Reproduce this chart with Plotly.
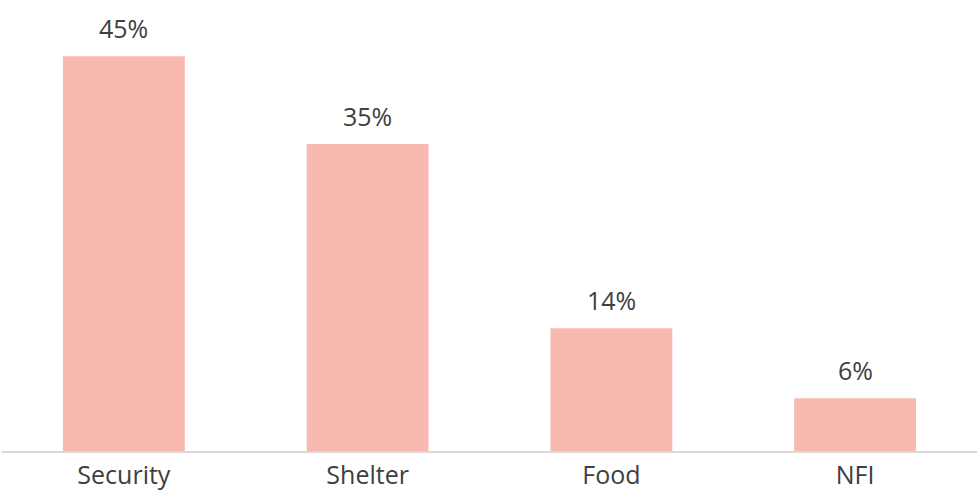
import plotly.graph_objects as go

categories = ["Security", "Shelter", "Food", "NFI"]
values = [45, 35, 14, 6]
labels = ["45%", "35%", "14%", "6%"]

FONT = "Open Sans"
fig = go.Figure(go.Bar(
    x=categories, y=values,
    marker=dict(color="#F8BAB0", line=dict(width=0)),
    hoverinfo="skip",
))
for c, v, t in zip(categories, values, labels):
    fig.add_annotation(x=c, y=v, text=t, showarrow=False, yanchor="bottom",
                       yshift=9, font=dict(size=25, color="#404040", family=FONT))
fig.update_layout(
    width=977, height=491,
    margin=dict(l=2, r=0, t=0, b=40),
    paper_bgcolor="white", plot_bgcolor="white",
    bargap=0.5, showlegend=False,
)
fig.update_xaxes(showline=True, linecolor="#D9D9D9", linewidth=1.5,
                 tickfont=dict(size=25, color="#404040", family=FONT),
                 ticks="", ticklabelstandoff=1, automargin=False)
fig.update_yaxes(range=[0, 51.4], visible=False, showgrid=False, automargin=False)
fig.write_html("out.html", config={"displayModeBar": False},
               post_script="document.body.style.margin='0';")
